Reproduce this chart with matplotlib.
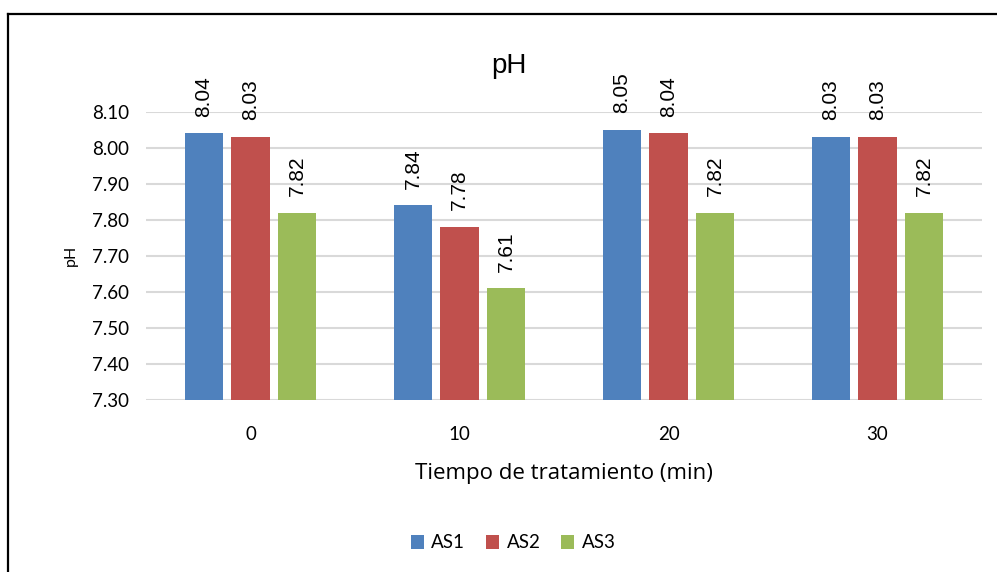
import numpy as np
import matplotlib
matplotlib.use("Agg")
import matplotlib.pyplot as plt
from matplotlib.lines import Line2D

# data
tiempos = ["0", "10", "20", "30"]
series = ["AS1", "AS2", "AS3"]
as1 = [8.04, 7.84, 8.05, 8.03]
as2 = [8.03, 7.78, 8.04, 8.03]
as3 = [7.82, 7.61, 7.82, 7.82]
colors = ["#4f81bd", "#c0504d", "#9bbb59"]
yticks = [7.30, 7.40, 7.50, 7.60, 7.70, 7.80, 7.90, 8.00, 8.10]

fig = plt.figure(figsize=(9.97, 5.72), dpi=100)
ax = fig.add_axes([146 / 997, 1 - 400 / 572, 836 / 997, 288.3 / 572])

x = np.arange(len(tiempos))
w = 0.182
step = 0.222
for i, (vals, c) in enumerate(zip([as1, as2, as3], colors)):
    pos = x + (i - 1) * step
    ax.bar(pos, vals, width=w, color=c, bottom=0, zorder=3, label=series[i])
    for px, v in zip(pos, vals):
        ax.annotate(f"{v:.2f}", (px, v), xytext=(0, 12), textcoords="offset points",
                    rotation=90, ha="center", va="bottom",
                    family="Liberation Sans", fontsize=15, color="#000000")

ax.set_ylim(7.30, 8.10)
ax.set_xlim(-0.5, len(tiempos) - 0.5)
ax.set_yticks(yticks)
ax.set_yticklabels([f"{t:.2f}" for t in yticks], family="Lato", fontsize=13.5)
ax.set_xticks(x)
ax.set_xticklabels(tiempos, family="Lato", fontsize=13.5)
ax.tick_params(length=0, pad=12)
ax.tick_params(axis="x", pad=19)
ax.yaxis.grid(True, color="#d9d9d9", lw=1.5, zorder=0)
ax.set_axisbelow(True)
for s in ax.spines.values():
    s.set_visible(False)

ax.set_xlabel("Tiempo de tratamiento (min)", family="Open Sans", fontsize=16, labelpad=14)
ax.set_ylabel("pH", family="Lato", fontsize=11.5, labelpad=10)
fig.text(509 / 997, 1 - 66 / 572, "pH", ha="center", va="center", family="Liberation Sans", fontsize=20)

ax.legend(loc="center", bbox_to_anchor=(513 / 997, 1 - 543 / 572), bbox_transform=fig.transFigure,
          ncol=3, frameon=False, prop={"family": "Lato", "size": 13.5},
          handlelength=0.7, handleheight=0.7, handletextpad=0.4, columnspacing=1.1)

# outer chart border (top and left visible)
fig.add_artist(Line2D([8 / 997, 8 / 997], [0, 1 - 13.5 / 572], transform=fig.transFigure, color="black", lw=1.6))
fig.add_artist(Line2D([8 / 997, 1], [1 - 13.5 / 572, 1 - 13.5 / 572], transform=fig.transFigure, color="black", lw=1.6))

fig.savefig("out.png", dpi=100)
